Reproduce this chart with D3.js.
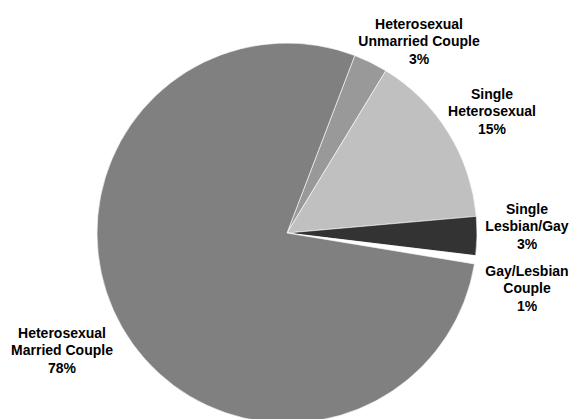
<!DOCTYPE html>
<html>
<head>
<meta charset="utf-8">
<script src="https://cdn.jsdelivr.net/npm/d3@7"></script>
<style>
  html, body { margin: 0; padding: 0; background: #fff; }
  text { font-family: "Liberation Sans", Arial, sans-serif; font-weight: bold; font-size: 14px; fill: #000; }
</style>
</head>
<body>
<div id="chart"></div>
<script>
// Slice data, clockwise from the top-right edge of the big slice
const categories = [
    ["Heterosexual", "Unmarried Couple"],
    ["Single", "Heterosexual"],
    ["Single", "Lesbian/Gay"],
    ["Gay/Lesbian", "Couple"],
    ["Heterosexual", "Married Couple"]
];
const values = [2.9, 14.9, 3.3, 0.7, 78.2];
const percentLabels = ["3%", "15%", "3%", "1%", "78%"];
const sliceColors = ["#999999", "#c0c0c0", "#333333", "#ffffff", "#808080"];

// Label placement relative to pie centre (middle line baseline)
const labelPos = [[132, -187], [205, -117], [240, -2], [240, 60], [-225, 122]];

let width = 573, height = 419,
    cx = 287, cy = 233, radius = 190;

let svg = d3.select("#chart").append("svg")
    .attr("width", width)
    .attr("height", height);

let g = svg.append("g")
    .attr("transform", `translate(${cx}, ${cy})`);

let start = 20.9 * Math.PI / 180;
let pie = d3.pie()
    .sort(null)
    .startAngle(start)
    .endAngle(start + 2 * Math.PI);

let arc = d3.arc().innerRadius(0).outerRadius(radius);

g.selectAll("path")
    .data(pie(values))
    .enter().append("path")
    .attr("d", arc)
    .attr("fill", (d, i) => sliceColors[i])
    .attr("stroke", "#ffffff")
    .attr("stroke-width", 0.6);

// Labels: two text lines plus the percentage
categories.forEach((lines, i) => {
    let t = g.append("text")
        .attr("text-anchor", "middle")
        .attr("x", labelPos[i][0])
        .attr("y", labelPos[i][1]);
    let all = lines.concat([percentLabels[i]]);
    all.forEach((s, j) => {
        t.append("tspan")
            .attr("x", labelPos[i][0])
            .attr("y", labelPos[i][1] + (j - 1) * 17.5)
            .text(s);
    });
});
</script>
</body>
</html>
